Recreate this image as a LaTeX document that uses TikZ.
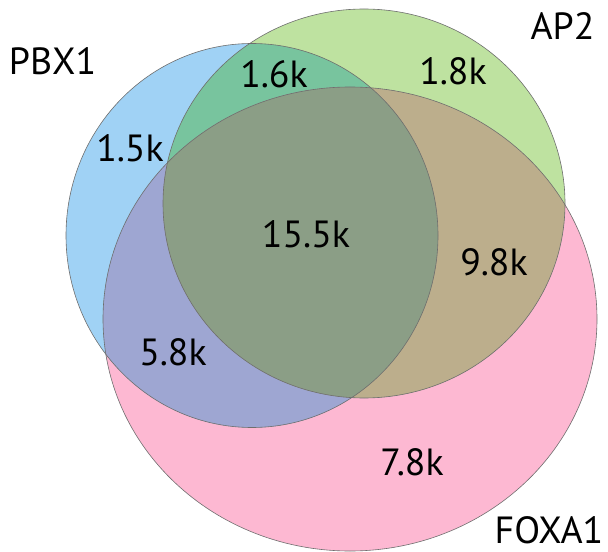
\documentclass[tikz,border=0pt]{standalone}
\usepackage{fontspec}
\setmainfont{PT Sans}
\definecolor{cB}{HTML}{A0D2F5}
\definecolor{cG}{HTML}{BEE2A0}
\definecolor{cP}{HTML}{FDB8D2}
\definecolor{cBG}{HTML}{78C49E}
\definecolor{cBP}{HTML}{9EA6D2}
\definecolor{cGP}{HTML}{BCAE8C}
\definecolor{cBGP}{HTML}{8B9E86}
\definecolor{cEdge}{HTML}{6E6E6E}
\begin{document}
\begin{tikzpicture}[x=1bp,y=-1bp,
  lbl/.style={anchor=base,inner sep=0pt,font=\fontsize{38}{40}\selectfont},
  edge/.style={draw=cEdge,line width=0.6bp}]
\useasboundingbox (0,0) rectangle (608,552);
% single sets
\fill[cP] (350,319) ellipse [x radius=247,y radius=232];
\fill[cB] (252,235.5) ellipse [x radius=186,y radius=192];
\fill[cG] (364,203.5) ellipse [x radius=201,y radius=194.5];
% pairwise overlaps
\begin{scope}
  \clip (252,235.5) ellipse [x radius=186,y radius=192];
  \fill[cBG] (364,203.5) ellipse [x radius=201,y radius=194.5];
\end{scope}
\begin{scope}
  \clip (252,235.5) ellipse [x radius=186,y radius=192];
  \fill[cBP] (350,319) ellipse [x radius=247,y radius=232];
\end{scope}
\begin{scope}
  \clip (364,203.5) ellipse [x radius=201,y radius=194.5];
  \fill[cGP] (350,319) ellipse [x radius=247,y radius=232];
\end{scope}
% triple overlap
\begin{scope}
  \clip (252,235.5) ellipse [x radius=186,y radius=192];
  \clip (364,203.5) ellipse [x radius=201,y radius=194.5];
  \fill[cBGP] (350,319) ellipse [x radius=247,y radius=232];
\end{scope}
% outlines
\draw[edge] (350,319) ellipse [x radius=247,y radius=232];
\draw[edge] (252,235.5) ellipse [x radius=186,y radius=192];
\draw[edge] (364,203.5) ellipse [x radius=201,y radius=194.5];
% set names
\node[lbl] (pbx) at (52.5,75) {PBX1};
\node[lbl] (ap) at (562.5,40) {AP2};
\node[lbl] (foxa) at (549,543) {FOXA1};
% counts
\node[lbl] (nBG) at (274,88) {1.6k};
\node[lbl] (nG) at (453,85) {1.8k};
\node[lbl] (nB) at (130,162) {1.5k};
\node[lbl] (nBGP) at (306,247) {15.5k};
\node[lbl] (nGP) at (494,275) {9.8k};
\node[lbl] (nBP) at (173,365) {5.8k};
\node[lbl] (nP) at (412,475) {7.8k};
\end{tikzpicture}
\end{document}
